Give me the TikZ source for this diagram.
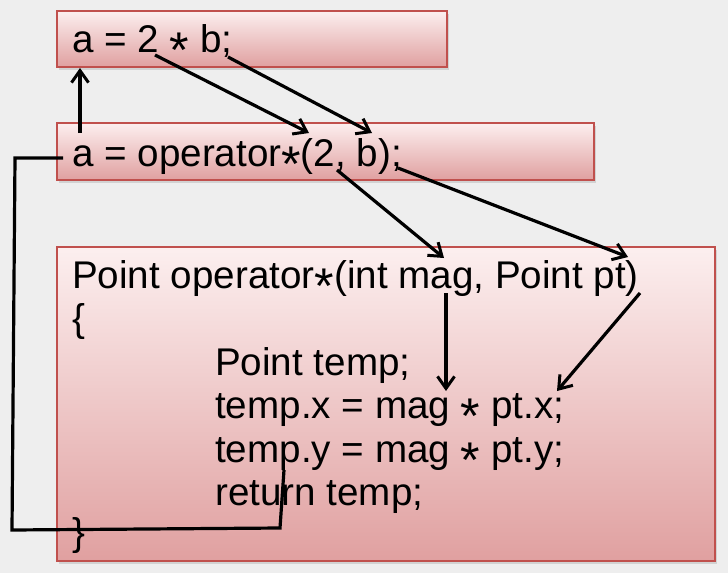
\documentclass[tikz,border=0pt]{standalone}
\usepackage{fontspec}
\setmainfont{Liberation Sans}
\usetikzlibrary{arrows.meta,shadows}
\definecolor{boxedge}{HTML}{C0504D}
\definecolor{boxtop}{HTML}{FCEFEF}
\definecolor{boxbottom}{HTML}{E0A0A0}
\definecolor{pagegray}{HTML}{EEEEEE}
\newcommand{\mulop}{\smash{\raisebox{-0.4em}{\scalebox{1.3}{*}}}}
\tikzset{
  codebox/.style={draw=boxedge, line width=1.8pt, top color=boxtop, bottom color=boxbottom, anchor=north west, inner sep=0pt, drop shadow={shadow xshift=2pt, shadow yshift=-3pt, opacity=0.25}},
  codeline/.style={anchor=base west, inner sep=0pt, font=\fontsize{38.6}{43.5}\selectfont},
  flowarrow/.style={-{Straight Barb[length=12pt,width=17pt,line width=3pt]}, line width=3.2pt, draw=black},
  flowline/.style={line width=3.2pt, draw=black, line join=miter}
}

\begin{document}
\begin{tikzpicture}[x=1pt,y=-1pt]
  \fill[pagegray] (0,0) rectangle (728,573);
  \useasboundingbox (0,0) rectangle (728,573);
  % boxes
  \node[codebox, minimum width=390pt, minimum height=56pt] (callbox) at (56,10) {};
  \node[codebox, minimum width=537pt, minimum height=57pt] (opbox) at (56,122) {};
  \node[codebox, minimum width=658pt, minimum height=314pt] (bodybox) at (56,246) {};
  % code
  \node[codeline] (callline) at (72,52) {a = 2 \mulop{} b;};
  \node[codeline] (opline) at (72,166) {a = operator\mulop(2, b);};
  \node[codeline] (sig) at (72,288) {Point operator\mulop(int mag, Point pt)};
  \node[codeline] (open) at (72,331) {\{};
  \node[codeline] (decl) at (215,375) {Point temp;};
  \node[codeline] (setx) at (215,418) {temp.x = mag \mulop{} pt.x;};
  \node[codeline] (sety) at (215,462) {temp.y = mag \mulop{} pt.y;};
  \node[codeline] (ret) at (215,505) {return temp;};
  \node[codeline] (close) at (72,545) {\}};
  % anchor points on the code
  \coordinate (resA) at (80,133);
  \coordinate (lhsA) at (80,68);
  \coordinate (litTwo) at (155,55);
  \coordinate (argTwo) at (309,133);
  \coordinate (varB) at (228,57);
  \coordinate (argB) at (372,133);
  \coordinate (commaTwo) at (337,170);
  \coordinate (parMag) at (444,258);
  \coordinate (semiB) at (398,168);
  \coordinate (parPt) at (628,257);
  \coordinate (magUse) at (446,293);
  \coordinate (magX) at (446,391);
  \coordinate (ptUse) at (640,293);
  \coordinate (ptX) at (557,391);
  \coordinate (callLeft) at (63,158);
  \coordinate (retPt) at (284,470);
  % connectors
  \draw[flowarrow] (resA) -- (lhsA);
  \draw[flowarrow] (litTwo) -- (argTwo);
  \draw[flowarrow] (varB) -- (argB);
  \draw[flowarrow] (commaTwo) -- (parMag);
  \draw[flowarrow] (semiB) -- (parPt);
  \draw[flowarrow] (magUse) -- (magX);
  \draw[flowarrow] (ptUse) -- (ptX);
  \draw[flowline] (callLeft) -- (15,158) -- (12,530) -- (280,528) -- (retPt);
\end{tikzpicture}
\end{document}
